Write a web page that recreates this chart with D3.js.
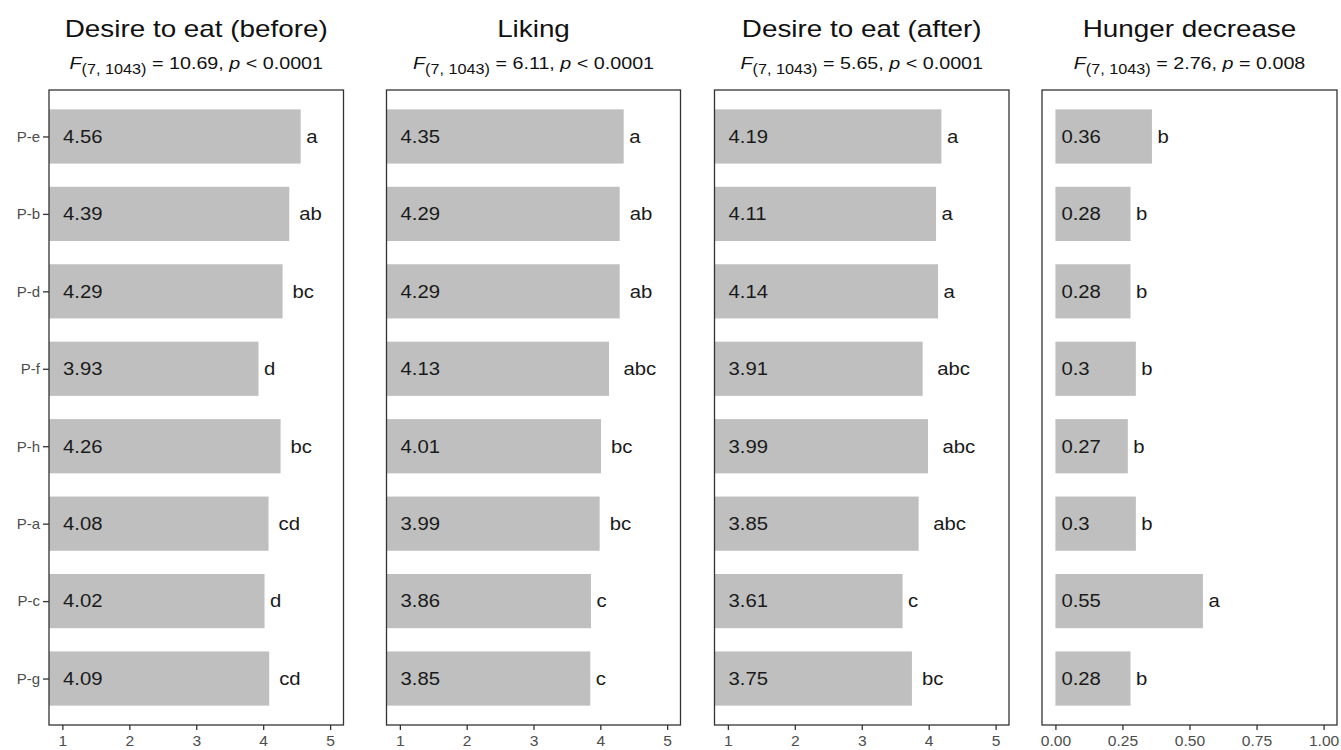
<!DOCTYPE html>
<html>
<head>
<meta charset="utf-8">
<script src="https://cdn.jsdelivr.net/npm/d3@7"></script>
<style>
  html, body { margin: 0; padding: 0; background: #fff; }
  svg { display: block; font-family: "Liberation Sans", Arial, sans-serif; }
</style>
</head>
<body>
<svg id="chart" width="1341" height="750"></svg>
<script>
const categories = ["P-e","P-b","P-d","P-f","P-h","P-a","P-c","P-g"];

const beforeValues = [4.56,4.39,4.29,3.93,4.26,4.08,4.02,4.09];
const beforeLetters = ["a","ab","bc","d","bc","cd","d","cd"];
const likingValues = [4.35,4.29,4.29,4.13,4.01,3.99,3.86,3.85];
const likingLetters = ["a","ab","ab","abc","bc","bc","c","c"];
const afterValues = [4.19,4.11,4.14,3.91,3.99,3.85,3.61,3.75];
const afterLetters = ["a","a","a","abc","abc","abc","c","bc"];
const hungerValues = [0.36,0.28,0.28,0.3,0.27,0.3,0.55,0.28];
const hungerLetters = ["b","b","b","b","b","b","a","b"];

const titles = ["Desire to eat (before)","Liking","Desire to eat (after)","Hunger decrease"];
const statF = ["10.69","6.11","5.65","2.76"];
const statP = ["< 0.0001","< 0.0001","< 0.0001","= 0.008"];
const dfLabel = "(7, 1043)";

const ticks15 = [1,2,3,4,5];
const ticksHunger = [0,0.25,0.5,0.75,1];

const panels = [
  {values: beforeValues, letters: beforeLetters, domain: [0.8,5.2], base: 0.8, ticks: ticks15, fmt: d3.format("d"), left: 49, right: 343.5},
  {values: likingValues, letters: likingLetters, domain: [0.8,5.2], base: 0.8, ticks: ticks15, fmt: d3.format("d"), left: 386.5, right: 680.5},
  {values: afterValues, letters: afterLetters, domain: [0.8,5.2], base: 0.8, ticks: ticks15, fmt: d3.format("d"), left: 714.5, right: 1009},
  {values: hungerValues, letters: hungerLetters, domain: [-0.05,1.05], base: 0, ticks: ticksHunger, fmt: d3.format(".2f"), left: 1042, right: 1337}
];

const SX = 1.16; // horizontal text stretch seen in the reference
const panelTop = 90, panelBottom = 725;
const svg = d3.select("#chart");

const y = d3.scalePoint().domain(categories).range([panelTop, panelBottom]).padding(0.6);
const step = y.step();
const barH = step * 0.7;

function place(x, yy, s) { return `translate(${x},${yy}) scale(${s || SX},1)`; }

panels.forEach((p, i) => {
  const x = d3.scaleLinear().domain(p.domain).range([p.left, p.right]);
  const g = svg.append("g");
  const cx = (p.left + p.right) / 2;

  // title
  g.append("text").attr("transform", place(cx, 36.5)).attr("text-anchor", "middle")
    .attr("font-size", 24).attr("fill", "#111").text(titles[i]);
  // subtitle
  const st = g.append("text").attr("transform", place(cx, 68.5)).attr("text-anchor", "middle")
    .attr("font-size", 17).attr("fill", "#111");
  st.append("tspan").attr("font-style", "italic").text("F");
  st.append("tspan").attr("font-size", 14).attr("dy", 5).text(dfLabel);
  st.append("tspan").attr("dy", -5).text(" = " + statF[i] + ", ");
  st.append("tspan").attr("font-style", "italic").text("p");
  st.append("tspan").text(" " + statP[i]);

  // bars
  const rows = categories.map((c, k) => ({c, v: p.values[k], l: p.letters[k]}));
  g.selectAll("rect.bar").data(rows).enter().append("rect")
    .attr("class", "bar")
    .attr("x", x(p.base))
    .attr("y", d => y(d.c) - barH / 2)
    .attr("width", d => x(d.v) - x(p.base))
    .attr("height", barH)
    .attr("fill", "#bfbfbf");

  // value labels
  g.selectAll("text.val").data(rows).enter().append("text")
    .attr("class", "val")
    .attr("transform", d => place(x(p.base) + (i === 3 ? 6 : 14), y(d.c)))
    .attr("dy", "0.36em")
    .attr("font-size", 17.5).attr("fill", "#1a1a1a")
    .text(d => String(d.v));

  // letter labels
  g.selectAll("text.let").data(rows).enter().append("text")
    .attr("class", "let")
    .attr("transform", d => place(x(d.v) + 1 + 4.5 * d.l.length, y(d.c)))
    .attr("dy", "0.36em")
    .attr("font-size", 17.5).attr("fill", "#1a1a1a")
    .text(d => d.l);

  // panel border
  g.append("rect").attr("x", p.left).attr("y", panelTop)
    .attr("width", p.right - p.left).attr("height", panelBottom - panelTop)
    .attr("fill", "none").attr("stroke", "#333").attr("stroke-width", 1.3);

  // x axis
  const xa = g.append("g").attr("transform", `translate(0,${panelBottom})`)
    .call(d3.axisBottom(x).tickValues(p.ticks).tickFormat(p.fmt).tickSize(5).tickPadding(4));
  xa.attr("font-size", 15);
  xa.select(".domain").remove();
  xa.selectAll("line").attr("stroke", "#333").attr("stroke-width", 1.3);
  xa.selectAll("text")
    .attr("y", null).attr("dy", null)
    .attr("transform", "translate(0,21) scale(1.04,1)")
    .style("font-size", "15px").attr("fill", "#4d4d4d")
    .attr("font-family", "Liberation Sans, Arial, sans-serif");

  if (i === 0) {
    const ya = g.append("g").attr("transform", `translate(${p.left},0)`)
      .call(d3.axisLeft(y).tickSize(6).tickPadding(3));
    ya.attr("font-size", 15);
    ya.select(".domain").remove();
    ya.selectAll("line").attr("stroke", "#333").attr("stroke-width", 1.3);
    ya.selectAll("text")
      .attr("x", -9)
      .style("font-size", "15px").attr("fill", "#4d4d4d")
      .attr("font-family", "Liberation Sans, Arial, sans-serif");
  }
});
</script>
</body>
</html>
